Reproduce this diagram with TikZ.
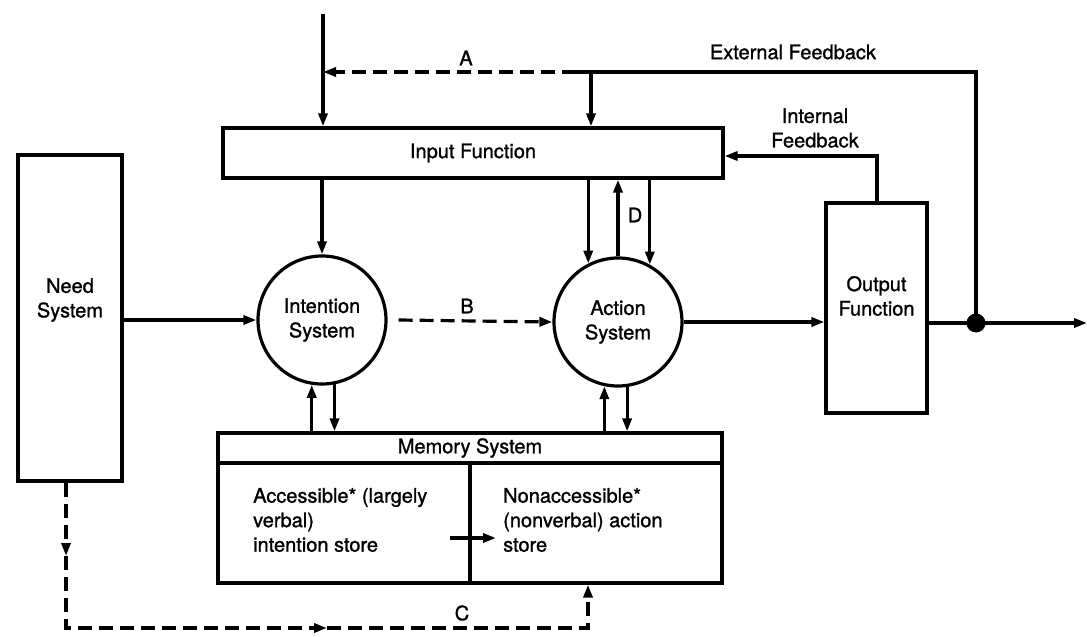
\documentclass[tikz,border=0pt]{standalone}
\usepackage{fontspec}
\setmainfont{TeX Gyre Heros}[FakeBold=1.2]
\usetikzlibrary{arrows.meta}
\newcommand\dgfont{\fontsize{20}{24.5}\selectfont}
\begin{document}
\begin{tikzpicture}[x=1pt,y=-1pt,
  wire/.style={line width=3.2pt},
  tipd/.style={-{Triangle[length=13pt,width=9pt]}},
  arr/.style={wire,tipd},
  dashwire/.style={wire,dash pattern=on 14pt off 7pt},
  box/.style={draw,rectangle,line width=3.2pt,inner sep=0pt,font=\dgfont},
  sys/.style={draw,circle,line width=3.2pt,minimum size=128pt,inner sep=0pt,font=\dgfont,align=center},
  lbl/.style={font=\dgfont,align=center,inner sep=0pt}]
\useasboundingbox (0,0) rectangle (1087,637);

% blocks
\node[box,minimum width=104pt,minimum height=326pt] (need) at (70,318) {};
\node[lbl] (needtxt) at (70,300) {Need\\System};
\node[box,minimum width=500pt,minimum height=50pt] (input) at (473,153) {Input Function};
\node[sys] (intent) at (322,320) {Intention\\System};
\node[sys] (action) at (618,322) {Action\\System};
\node[box,minimum width=101pt,minimum height=210pt] (output) at (876.5,308) {};
\node[lbl] (outtxt) at (876.5,296) {Output\\Function};
\node[box,minimum width=504pt,minimum height=150pt] (memory) at (470,508) {};
\draw[wire] (memory.west |- 0,463) -- (memory.east |- 0,463);
\draw[wire] (memory.center |- 0,463) -- (memory.south);
\node[lbl] (memtitle) at (470,448) {Memory System};
\node[lbl,anchor=west,align=left] (accstore) at (253,520) {Accessible* (largely\\verbal)\\intention store};
\node[lbl,anchor=west,align=left] (nonstore) at (503,520) {Nonaccessible*\\(nonverbal) action\\store};
\node[circle,fill,minimum size=19pt,inner sep=0pt] (dot) at (976,323) {};

% helper points
\coordinate (intop) at (323,14);
\coordinate (fbsplit) at (576,72);
\coordinate (fbdown) at (591,72);
\coordinate (fbcorner) at (976,72);
\coordinate (intcorner) at (877,156);
\coordinate (outend) at (1087,323);
\coordinate (storefrom) at (450,538);
\coordinate (storeto) at (496,538);
\coordinate (cvmid) at (66,556);
\coordinate (cbl) at (66,628);
\coordinate (chmid) at (327,628);
\coordinate (cbr) at (588,628);

% input side
\draw[arr] (intop) -- (intop |- input.north);
\draw[dashwire,tipd] (fbsplit) -- (intop |- fbsplit);
\draw[wire] (dot.center) -- (fbcorner) -- (fbsplit);
\draw[arr] (fbdown) -- (fbdown |- input.north);
\draw[arr] (intent.north |- input.south) -- (intent.north);
\draw[arr] (action.117 |- input.south) -- (action.117);
\draw[arr] (action.north) -- (action.north |- input.south);
\draw[arr] (action.61 |- input.south) -- (action.61);

% main flow
\draw[arr] (need.east |- intent.west) -- (intent.west);
\draw[dashwire,tipd] ([xshift=11pt]intent.east) -- (action.west);
\draw[arr] (action.east) -- (output.west |- action.east);
\draw[arr] (output.east |- dot) -- (outend);
\draw[arr] (output.north -| intcorner) -- (intcorner) -- (input.east |- intcorner);

% memory links
\draw[arr] (intent.261 |- memory.north) -- (intent.261);
\draw[arr] (intent.281) -- (intent.281 |- memory.north);
\draw[arr] (action.258 |- memory.north) -- (action.258);
\draw[arr] (action.278) -- (action.278 |- memory.north);
\draw[arr] (storefrom) -- (storeto);

% path C
\draw[dashwire,tipd] (need.south -| cvmid) -- (cvmid);
\draw[dashwire,tipd] (cvmid) -- (cbl) -- (chmid);
\draw[dashwire,tipd] (chmid) -- (cbr) -- (cbr |- memory.south);

% labels
\node[lbl] (labA) at (466,58) {A};
\node[lbl] (labB) at (467,306) {B};
\node[lbl] (labC) at (462,613) {C};
\node[lbl] (labD) at (635,215) {D};
\node[lbl] (extfb) at (793,52) {External Feedback};
\node[lbl] (intfb) at (815,128) {Internal\\Feedback};
\end{tikzpicture}
\end{document}
